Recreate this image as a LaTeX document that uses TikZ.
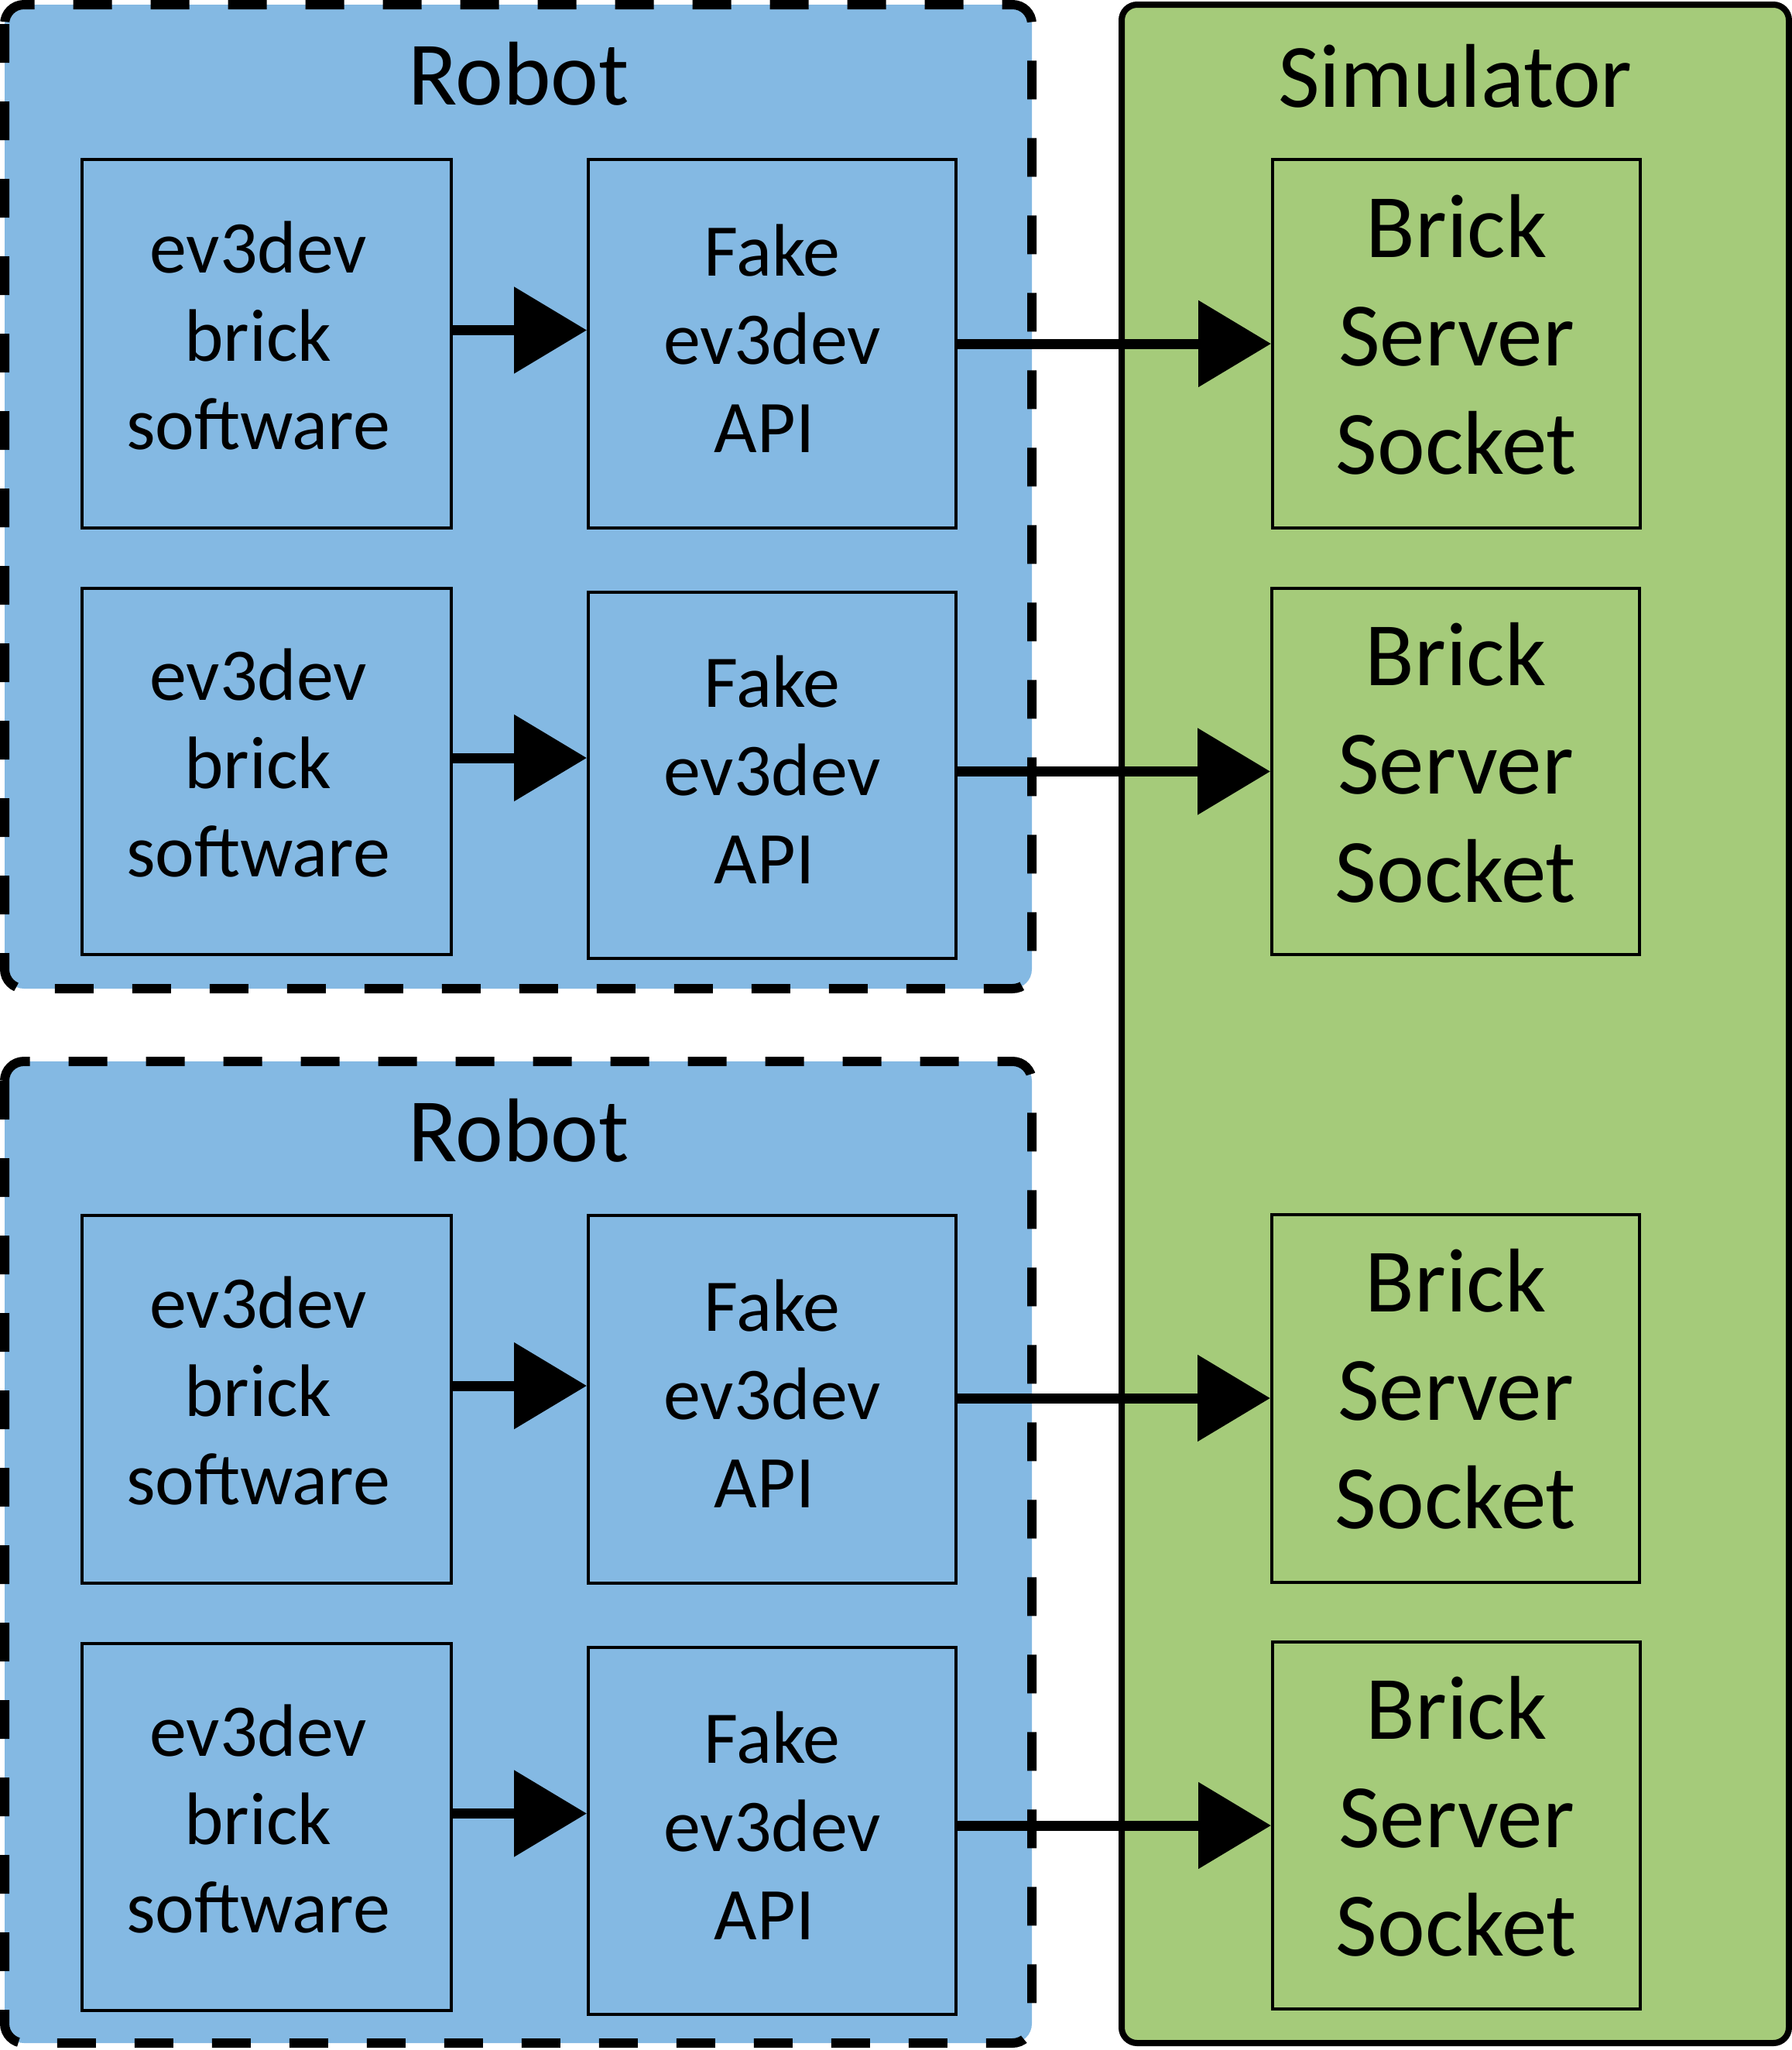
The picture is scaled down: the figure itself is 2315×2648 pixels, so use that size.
\documentclass[tikz,border=0pt]{standalone}
\usepackage{fontspec}
\setmainfont{Carlito}
\usetikzlibrary{arrows.meta}
\definecolor{robotblue}{RGB}{132,185,227}
\definecolor{simgreen}{RGB}{165,203,122}
\newcommand{\brickswtext}{\mbox{ev3dev\hspace{22pt}}\\\mbox{brick\hspace{22pt}}\\\mbox{software\hspace{22pt}}}
\newcommand{\fakeapitext}{Fake\\ev3dev\\\mbox{API\hspace{20pt}}}
\newcommand{\serversockettext}{Brick\\Server\\Socket}
\tikzset{
  robotframe/.style={draw=black, fill=robotblue, line width=12pt, dash pattern=on 50pt off 50pt, rounded corners=25pt},
  simframe/.style={draw=black, fill=simgreen, line width=8pt, rounded corners=20pt},
  innerbox/.style={draw=black, line width=4pt, inner sep=0pt, align=center, font=\fontsize{96pt}{114pt}\selectfont},
  leftbox/.style={innerbox, text depth=22pt},
  midbox/.style={innerbox, text depth=14pt},
  simbox/.style={draw=black, line width=4pt, inner sep=0pt, align=center, text depth=24pt, font=\fontsize{117pt}{140pt}\selectfont},
  titletext/.style={anchor=base, inner sep=0pt, font=\fontsize{117pt}{140pt}\selectfont},
  arr/.style={line width=13pt, -{Triangle[length=94pt,width=109pt]}}
}
\begin{document}
\begin{tikzpicture}[x=1pt,y=-1pt]
\useasboundingbox (0,0) rectangle (2315,2648);
% frames
\path[robotframe] (6,6) rectangle (1333,1277);
\path[robotframe] (6,1371) rectangle (1333,2639);
\path[simframe] (1449,6) rectangle (2311,2639);
% titles
\node[titletext] (t1) at (670,135) {Robot};
\node[titletext] (t2) at (670,1500) {Robot};
\node[titletext] (ts) at (1880,138) {Simulator};
% row 1
\node[leftbox, minimum width=477pt, minimum height=476pt] (l1) at (344.5,444) {\brickswtext};
\node[midbox, minimum width=475pt, minimum height=476pt] (m1) at (997.5,444) {\fakeapitext};
\node[simbox, minimum width=475pt, minimum height=476pt] (s1) at (1881.5,444) {\serversockettext};
% row 2
\node[leftbox, minimum width=477pt, minimum height=473pt] (l2) at (344.5,996.5) {\brickswtext};
\node[midbox, minimum width=475pt, minimum height=473pt] (m2) at (997.5,1001.5) {\fakeapitext};
\node[simbox, minimum width=475pt, minimum height=473pt] (s2) at (1880.5,996.5) {\serversockettext};
% row 3
\node[leftbox, minimum width=477pt, minimum height=475pt] (l3) at (344.5,1807.5) {\brickswtext};
\node[midbox, minimum width=475pt, minimum height=475pt] (m3) at (997.5,1807.5) {\fakeapitext};
\node[simbox, minimum width=475pt, minimum height=475pt] (s3) at (1880.5,1806) {\serversockettext};
% row 4
\node[leftbox, minimum width=477pt, minimum height=474pt] (l4) at (344.5,2360) {\brickswtext};
\node[midbox, minimum width=475pt, minimum height=474pt] (m4) at (997.5,2365) {\fakeapitext};
\node[simbox, minimum width=475pt, minimum height=474pt] (s4) at (1881.5,2358) {\serversockettext};
% arrows
\foreach \i in {1,2,3,4}{
  \coordinate (a\i) at ([yshift=17.5pt]l\i.east);
  \draw[arr] (a\i) -- (a\i -| m\i.west);
  \draw[arr] (m\i.east |- s\i.west) -- (s\i.west);
}
\end{tikzpicture}
\end{document}
